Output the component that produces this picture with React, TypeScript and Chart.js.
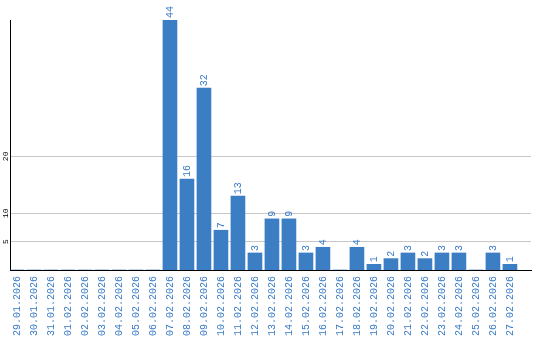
import { useEffect, useRef } from 'react';
import { Chart, registerables } from 'chart.js';

Chart.register(...registerables);

const categories = [
  '29.01.2026', '30.01.2026', '31.01.2026', '01.02.2026', '02.02.2026',
  '03.02.2026', '04.02.2026', '05.02.2026', '06.02.2026', '07.02.2026',
  '08.02.2026', '09.02.2026', '10.02.2026', '11.02.2026', '12.02.2026',
  '13.02.2026', '14.02.2026', '15.02.2026', '16.02.2026', '17.02.2026',
  '18.02.2026', '19.02.2026', '20.02.2026', '21.02.2026', '22.02.2026',
  '23.02.2026', '24.02.2026', '25.02.2026', '26.02.2026', '27.02.2026',
];
const values = [
  0, 0, 0, 0, 0, 0, 0, 0, 0, 44,
  16, 32, 7, 13, 3, 9, 9, 3, 4, 0,
  4, 1, 2, 3, 2, 3, 3, 0, 3, 1,
];
const yTickValues = [5, 10, 20];
const yMax = 44;

const BAR = '#3b7ec4';
const TEXT_BLUE = '#3a7bc6';
const MONO = '"Liberation Mono", "DejaVu Sans Mono", monospace';

const labelsPlugin = {
  id: 'customLabels',
  afterDraw(chart: any) {
    const ctx = chart.ctx;
    const yScale = chart.scales.y;
    ctx.save();
    ctx.fillStyle = '#000';
    ctx.font = `8px ${MONO}`;
    ctx.textAlign = 'center';
    ctx.textBaseline = 'middle';
    yTickValues.forEach((v) => {
      const py = yScale.getPixelForValue(v);
      ctx.save();
      ctx.translate(5.5, py);
      ctx.rotate(-Math.PI / 2);
      ctx.fillText(String(v), 0, 0);
      ctx.restore();
    });
    ctx.restore();
    const meta = chart.getDatasetMeta(0);
    ctx.save();
    ctx.fillStyle = TEXT_BLUE;
    ctx.font = `10px ${MONO}`;
    ctx.textAlign = 'left';
    ctx.textBaseline = 'middle';
    meta.data.forEach((bar: any, i: number) => {
      const v = values[i];
      if (!v) return;
      ctx.save();
      ctx.translate(bar.x, bar.y - 2);
      ctx.rotate(-Math.PI / 2);
      ctx.fillText(String(v), 0, 0);
      ctx.restore();
    });
    ctx.restore();
  },
};

export default function App() {
  const ref = useRef<HTMLCanvasElement>(null);

  useEffect(() => {
    if (!ref.current) return;
    const chart = new Chart(ref.current, {
      type: 'bar',
      data: {
        datasets: [
          {
            data: values.map((v, i) => ({ x: i, y: v })),
            backgroundColor: BAR,
            borderWidth: 0,
            barThickness: 14,
          },
        ],
      },
      options: {
        animation: false,
        responsive: false,
        layout: { padding: { top: 20, right: 9, left: 0, bottom: 0 } },
        plugins: { legend: { display: false }, tooltip: { enabled: false } },
        scales: {
          x: {
            type: 'linear',
            min: -0.41,
            max: 30.24,
            offset: false,
            afterBuildTicks: (scale: any) => {
              scale.ticks = categories.map((_, i) => ({ value: i }));
            },
            afterFit: (scale: any) => {
              scale.height = 70;
            },
            grid: { display: false, drawTicks: false },
            border: { display: true, color: '#000', width: 1 },
            ticks: {
              autoSkip: false,
              minRotation: 90,
              maxRotation: 90,
              padding: 6,
              color: TEXT_BLUE,
              font: { family: MONO, size: 10 },
              callback: (value: any) => categories[value] ?? '',
            },
          },
          y: {
            min: 0,
            max: yMax,
            afterBuildTicks: (scale: any) => {
              scale.ticks = yTickValues.map((v) => ({ value: v }));
            },
            afterFit: (scale: any) => {
              scale.width = 10;
            },
            grid: { color: '#c8c8c8', drawTicks: false, lineWidth: 1 },
            border: { display: true, color: '#000', width: 1 },
            ticks: { display: false },
          },
        },
      },
      plugins: [labelsPlugin],
    });
    return () => chart.destroy();
  }, []);

  return (
    <div style={{ position: 'fixed', left: 0, top: 0, width: 540, height: 340, background: '#fff' }}>
      <canvas ref={ref} width={540} height={340} style={{ display: 'block' }} />
    </div>
  );
}
